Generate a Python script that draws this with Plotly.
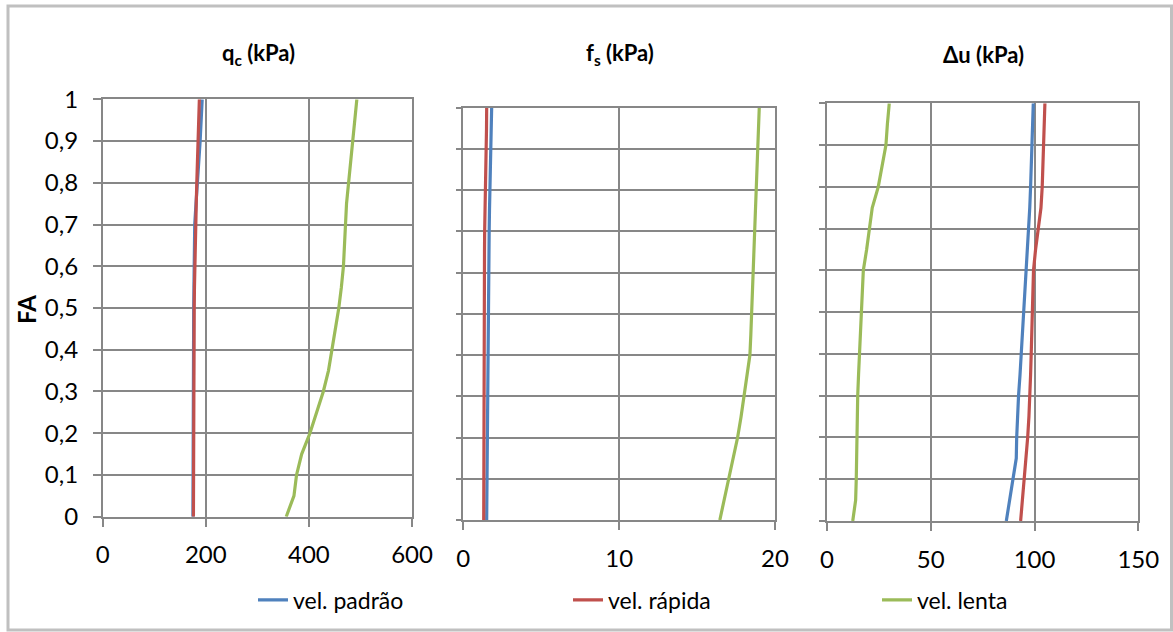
import plotly.graph_objects as go

W, H = 1173, 632

# ---------------- data ----------------
FA = [0.00, 0.05, 0.10, 0.15, 0.20, 0.25, 0.30, 0.35, 0.40, 0.45, 0.50,
      0.55, 0.60, 0.65, 0.70, 0.75, 0.80, 0.85, 0.90, 0.95, 1.00]

series_names = ["vel. padrão", "vel. rápida", "vel. lenta"]

# q_c (kPa)
qc_padrao = [175, 175, 175, 175.5, 175.5, 176, 176, 176, 176.5, 176.5, 176.5,
             177, 177, 177.5, 178.5, 181, 184, 186.5, 189, 191, 193]
qc_rapida = [176, 176, 176, 176.5, 176.5, 176.5, 177, 177, 177, 177.5, 177.5,
             178, 178.5, 179.5, 180.5, 181.5, 182.5, 183.5, 185, 186, 187.5]
qc_lenta = [356, 371, 376, 386, 402, 415, 428, 438, 445, 451, 458,
            463, 467, 469, 471, 473, 477, 481, 486, 489.5, 493]

# f_s (kPa)
fs_padrao = [1.50, 1.51, 1.52, 1.52, 1.53, 1.53, 1.54, 1.55, 1.56, 1.57, 1.59,
             1.61, 1.63, 1.64, 1.66, 1.68, 1.71, 1.74, 1.77, 1.80, 1.82]
fs_rapida = [1.31, 1.31, 1.32, 1.32, 1.33, 1.33, 1.33, 1.34, 1.34, 1.34, 1.35,
             1.35, 1.35, 1.36, 1.37, 1.40, 1.44, 1.46, 1.48, 1.49, 1.50]
fs_lenta = [16.46, 16.75, 17.07, 17.35, 17.60, 17.82, 18.01, 18.21, 18.39, 18.45, 18.50,
            18.55, 18.60, 18.65, 18.70, 18.74, 18.78, 18.82, 18.87, 18.93, 18.99]

# Δu (kPa)
du_padrao = [86.4, 88.0, 89.4, 91.2, 91.4, 91.8, 92.3, 93.0, 93.6, 94.2, 94.9,
             95.5, 96.2, 96.8, 97.3, 97.7, 98.1, 98.5, 98.9, 99.2, 99.4]
du_rapida = [93.3, 94.2, 95.1, 95.9, 96.7, 97.3, 97.8, 98.1, 98.4, 98.7, 98.9,
             99.2, 99.5, 100.5, 101.8, 103.1, 103.7, 104.1, 104.5, 104.8, 105.0]
du_lenta = [12.4, 13.8, 14.1, 14.2, 14.3, 14.5, 14.8, 15.2, 15.6, 16.0, 16.5,
            17.0, 17.5, 19.1, 20.4, 21.8, 24.7, 26.7, 28.4, 29.1, 30.0]

panel_titles = ["<b>q<sub>c</sub> (kPa)</b>", "<b>f<sub>s</sub> (kPa)</b>", "<b>Δu (kPa)</b>"]
y_title = "<b>FA</b>"

y_tickvals = [0, 0.1, 0.2, 0.3, 0.4, 0.5, 0.6, 0.7, 0.8, 0.9, 1]
y_ticktext = ["0", "0,1", "0,2", "0,3", "0,4", "0,5", "0,6", "0,7", "0,8", "0,9", "1"]
qc_ticks = [0, 200, 400, 600]
fs_ticks = [0, 10, 20]
du_ticks = [0, 50, 100, 150]

# ---------------- style ----------------
colors = ["#4F81BD", "#C0504D", "#9BBB59"]
FONT = "Lato"
GRID = "#878787"
TXT = "#000000"


def px_x(p):
    return p / W


def px_y(p):
    return 1 - p / H


# panel pixel boxes (left, right, top, bottom)
boxes = [(102.7, 412.0, 99.3, 516.7),
         (463.3, 775.0, 107.7, 520.0),
         (827.0, 1138.3, 103.3, 521.0)]

fig = go.Figure()

panels = [
    (qc_padrao, qc_rapida, qc_lenta),
    (fs_padrao, fs_rapida, fs_lenta),
    (du_padrao, du_rapida, du_lenta),
]
legend_ids = ["legend", "legend2", "legend3"]

for pi, vals in enumerate(panels):
    xa = "x" if pi == 0 else f"x{pi + 1}"
    ya = "y" if pi == 0 else f"y{pi + 1}"
    for si, v in enumerate(vals):
        fig.add_trace(go.Scatter(
            x=v, y=FA, mode="lines", name=series_names[si],
            line=dict(color=colors[si], width=3.2),
            xaxis=xa, yaxis=ya,
            showlegend=(pi == 0), legend=legend_ids[si],
            hoverinfo="skip",
        ))

x_ranges = [[0, 600], [0, 20], [0, 150]]
x_ticks = [qc_ticks, fs_ticks, du_ticks]

layout = dict(
    width=W, height=H,
    margin=dict(l=0, r=0, t=0, b=0, autoexpand=False),
    paper_bgcolor="white", plot_bgcolor="white",
    font=dict(family=FONT, color=TXT, size=24),
)

for pi, (l, r, t, b) in enumerate(boxes):
    xk = "xaxis" if pi == 0 else f"xaxis{pi + 1}"
    yk = "yaxis" if pi == 0 else f"yaxis{pi + 1}"
    ya = "y" if pi == 0 else f"y{pi + 1}"
    xa = "x" if pi == 0 else f"x{pi + 1}"
    layout[xk] = dict(
        domain=[px_x(l), px_x(r)], anchor=ya, range=x_ranges[pi],
        tickmode="array", tickvals=x_ticks[pi],
        showgrid=True, gridcolor=GRID, gridwidth=1.6,
        showline=True, linecolor=GRID, linewidth=1.6, mirror=True,
        ticks="outside", ticklen=8, tickcolor=GRID, tickwidth=1.6,
        tickfont=dict(family=FONT, size=24, color=TXT),
        ticklabelstandoff=8, automargin=False,
        zeroline=False, fixedrange=True,
    )
    layout[yk] = dict(
        domain=[px_y(b), px_y(t)], anchor=xa, range=[0, 1],
        tickmode="array", tickvals=y_tickvals, ticktext=y_ticktext,
        showticklabels=(pi == 0),
        showgrid=True, gridcolor=GRID, gridwidth=1.6,
        showline=True, linecolor=GRID, linewidth=1.6, mirror=True,
        ticks="outside", ticklen=8 if pi == 0 else 6, tickcolor=GRID, tickwidth=1.6,
        tickfont=dict(family=FONT, size=24, color=TXT),
        ticklabelstandoff=10, automargin=False,
        zeroline=False, fixedrange=True,
    )

# legends (one per series, placed along the bottom)
legend_x = [253, 568, 877]
for li, lid in enumerate(legend_ids):
    layout[lid] = dict(
        x=px_x(legend_x[li]), xanchor="left",
        y=px_y(600), yanchor="middle",
        orientation="h", bgcolor="rgba(0,0,0,0)", borderwidth=0,
        font=dict(family=FONT, size=23, color=TXT),
    )

fig.update_layout(**layout)

# panel titles
title_pos = [(258, 54), (620, 54), (983, 54)]
for (cx, cy), txt in zip(title_pos, panel_titles):
    fig.add_annotation(
        x=px_x(cx), y=px_y(cy), xref="paper", yref="paper",
        text=txt, showarrow=False, xanchor="center", yanchor="middle",
        font=dict(family=FONT, size=22, color=TXT),
    )

# y-axis title
fig.add_annotation(
    x=px_x(27), y=px_y(310), xref="paper", yref="paper",
    text=y_title, showarrow=False, textangle=-90,
    xanchor="center", yanchor="middle",
    font=dict(family=FONT, size=24, color=TXT),
)

# chart-area border
fig.add_shape(
    type="rect", xref="paper", yref="paper",
    x0=px_x(8), x1=px_x(1171.5), y0=px_y(630), y1=px_y(6),
    line=dict(color="#C0C0C0", width=3), fillcolor="rgba(0,0,0,0)", layer="below",
)

fig.write_html(
    "out.html",
    post_script="document.body.style.margin='0';document.body.style.overflow='hidden';",
)
